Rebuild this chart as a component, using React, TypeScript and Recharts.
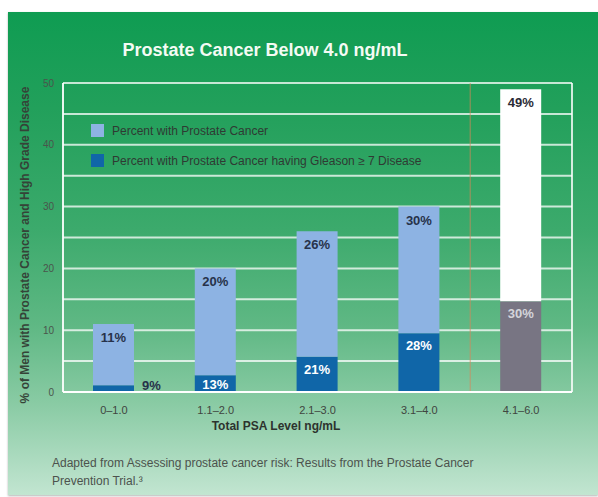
import React from 'react';
import {
  BarChart,
  Bar,
  XAxis,
  YAxis,
  CartesianGrid,
  Cell,
  LabelList,
  ReferenceLine,
} from 'recharts';

// PSA ranges (ng/mL)
const categories = ['0–1.0', '1.1–2.0', '2.1–3.0', '3.1–4.0', '4.1–6.0'];
// % of men with prostate cancer (bar height / label)
const withCancer = [11, 20, 26, 30, 49];
// height of the high grade (Gleason >= 7) segment
const highGrade = [1.1, 2.7, 5.7, 9.5, 14.7];
// label printed on the high grade segment
const highGradePct = [9, 13, 21, 28, 30];

const yTicks = [0, 10, 20, 30, 40, 50];
const gridValues = [5, 10, 15, 20, 25, 30, 35, 40, 45, 50];

const LIGHT = '#8db3e3';
const DARK = '#1066a8';
const GRAY = '#787583';
const WHITE = '#ffffff';

const legendItems = [
  { label: 'Percent with Prostate Cancer', color: LIGHT },
  { label: 'Percent with Prostate Cancer having Gleason ≥ 7 Disease', color: DARK },
];

const data = categories.map((c, i) => ({
  range: c,
  high: highGrade[i],
  rest: withCancer[i] - highGrade[i],
}));

const font = '"Liberation Sans", Arial, sans-serif';

const TotalLabel = (props: any) => {
  const { x, y, width, index } = props;
  return (
    <text
      x={x + width / 2}
      y={y + 18}
      textAnchor="middle"
      fontSize={13}
      fontWeight="bold"
      fontFamily={font}
      fill={index === 4 ? '#2b2b35' : '#27324a'}
    >
      {withCancer[index]}%
    </text>
  );
};

const HighLabel = (props: any) => {
  const { x, y, width, height, index } = props;
  if (index === 0) {
    return (
      <text x={x + width + 8} y={y + height - 2} fontSize={13} fontWeight="bold" fontFamily={font} fill="#27324a">
        {highGradePct[index]}%
      </text>
    );
  }
  const ty = height < 24 ? y + height / 2 + 5 : y + 17;
  return (
    <text
      x={x + width / 2}
      y={ty}
      textAnchor="middle"
      fontSize={13}
      fontWeight="bold"
      fontFamily={font}
      fill={index === 4 ? '#d4d4da' : WHITE}
    >
      {highGradePct[index]}%
    </text>
  );
};

export default function App() {
  return (
    <div
      style={{
        position: 'absolute',
        left: 8,
        top: 12,
        width: 590,
        height: 483,
        background:
          'linear-gradient(180deg, #0f9c52 0%, #22a05b 20%, #3caa6c 45%, #5fb884 65%, #8ccca6 82%, #c2e5d1 100%)',
        boxShadow: '0 1px 2px rgba(0,0,0,0.3)',
        fontFamily: font,
      }}
    >
      <div
        style={{
          position: 'absolute',
          left: 257,
          top: 38,
          transform: 'translate(-50%, -50%)',
          color: '#f4fbf4',
          fontWeight: 'bold',
          fontSize: 18,
          whiteSpace: 'nowrap',
        }}
      >
        Prostate Cancer Below 4.0 ng/mL
      </div>
      <div
        style={{
          position: 'absolute',
          left: 17,
          top: 233,
          transform: 'translate(-50%, -50%) rotate(-90deg)',
          color: '#354338',
          fontWeight: 'bold',
          fontSize: 12,
          whiteSpace: 'nowrap',
        }}
      >
        % of Men with Prostate Cancer and High Grade Disease
      </div>
      <BarChart
        width={590}
        height={483}
        data={data}
        margin={{ top: 71, right: 0, bottom: 73, left: 0 }}
        barSize={41}
      >
        <CartesianGrid
          horizontal
          vertical={false}
          horizontalValues={gridValues}
          stroke="rgba(255,255,255,0.75)"
          strokeWidth={2}
        />
        <XAxis
          dataKey="range"
          axisLine={{ stroke: '#ffffff', strokeWidth: 2 }}
          tickLine={false}
          tickMargin={8}
          height={30}
          tick={{ fontSize: 11, fill: '#404540', fontFamily: font }}
        />
        <YAxis
          domain={[0, 50]}
          ticks={yTicks}
          width={55}
          axisLine={{ stroke: 'rgba(255,255,255,0.9)', strokeWidth: 2 }}
          tickLine={false}
          tickMargin={3}
          tick={{ fontSize: 10, fill: '#4a554c', fontFamily: font }}
        />
        <YAxis
          yAxisId="r"
          orientation="right"
          domain={[0, 50]}
          width={26}
          tick={false}
          tickLine={false}
          axisLine={{ stroke: 'rgba(255,255,255,0.8)', strokeWidth: 2 }}
        />
        <ReferenceLine
          x="4.1–6.0"
          position="start"
          stroke="#d8865a"
          strokeOpacity={0.7}
          strokeWidth={1}
        />
        <Bar dataKey="high" stackId="a" isAnimationActive={false}>
          {data.map((d, i) => (
            <Cell key={d.range} fill={i === 4 ? GRAY : DARK} />
          ))}
          <LabelList dataKey="high" content={<HighLabel />} />
        </Bar>
        <Bar dataKey="rest" stackId="a" isAnimationActive={false}>
          {data.map((d, i) => (
            <Cell key={d.range} fill={i === 4 ? WHITE : LIGHT} />
          ))}
          <LabelList dataKey="rest" content={<TotalLabel />} />
        </Bar>
      </BarChart>
      <div
        style={{
          position: 'absolute',
          left: 83,
          top: 111,
          fontSize: 12,
          color: '#2f3a33',
        }}
      >
        {legendItems.map((l) => (
          <div key={l.label} style={{ display: 'flex', alignItems: 'center', height: 15, marginBottom: 15, whiteSpace: 'nowrap' }}>
            <div style={{ width: 13, height: 13, background: l.color, marginRight: 8 }} />
            {l.label}
          </div>
        ))}
      </div>
      <div
        style={{
          position: 'absolute',
          left: 268,
          top: 414,
          transform: 'translate(-50%, -50%)',
          fontWeight: 'bold',
          fontSize: 12,
          color: '#2d332e',
          whiteSpace: 'nowrap',
        }}
      >
        Total PSA Level ng/mL
      </div>
      <div
        style={{
          position: 'absolute',
          left: 44,
          top: 442,
          width: 450,
          fontSize: 12,
          lineHeight: '18px',
          color: '#4c524d',
        }}
      >
        Adapted from Assessing prostate cancer risk: Results from the Prostate Cancer Prevention Trial.³
      </div>
    </div>
  );
}
